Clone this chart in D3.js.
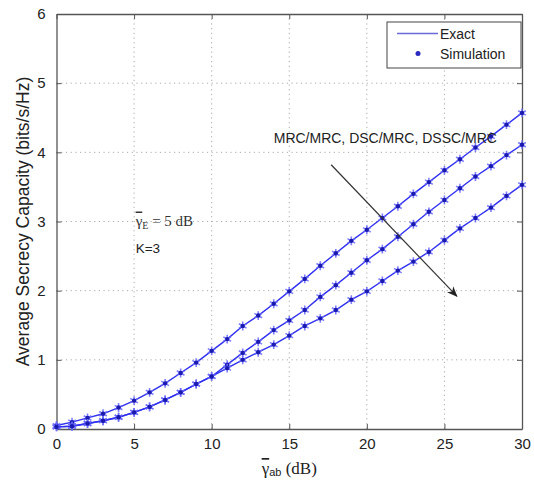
<!DOCTYPE html>
<html>
<head>
<meta charset="utf-8">
<script src="https://cdn.jsdelivr.net/npm/d3@7"></script>
<style>
  body { margin: 0; background: #fff; }
  text { font-family: "Liberation Sans", Arial, sans-serif; }
</style>
</head>
<body>
<div id="chart"></div>
<script>
// x values (dB) and the three curves
var snr = [0,1,2,3,4,5,6,7,8,9,10,11,12,13,14,15,16,17,18,19,20,21,22,23,24,25,26,27,28,29,30];
var mrcMrc = [0.05,0.1,0.16,0.22,0.31,0.41,0.53,0.66,0.81,0.96,1.13,1.3,1.49,1.64,1.81,1.99,2.17,2.36,2.54,2.72,2.88,3.05,3.22,3.4,3.57,3.74,3.9,4.07,4.23,4.4,4.57];
var dscMrc = [0.03,0.04,0.08,0.12,0.17,0.24,0.32,0.42,0.53,0.65,0.76,0.93,1.1,1.26,1.43,1.57,1.72,1.91,2.08,2.26,2.44,2.6,2.78,2.96,3.14,3.31,3.48,3.65,3.8,3.96,4.11];
var dsscMrc = [0.03,0.04,0.08,0.12,0.17,0.24,0.32,0.42,0.53,0.65,0.76,0.88,1.0,1.11,1.22,1.35,1.49,1.6,1.72,1.87,1.99,2.14,2.29,2.42,2.56,2.73,2.9,3.05,3.2,3.37,3.53];
var xTicks = [0,5,10,15,20,25,30];
var yTicks = [0,1,2,3,4,5,6];
var legendLabels = ["Exact", "Simulation"];

var svg = d3.select("#chart").append("svg")
  .attr("width", 534)
  .attr("height", 480);

var margin = {top: 14, right: 12, bottom: 51, left: 56.5},
  width = 534 - margin.left - margin.right,
  height = 480 - margin.top - margin.bottom,
  g = svg.append("g").attr("transform", "translate(" + margin.left + "," + margin.top + ")");

var x = d3.scaleLinear().domain([0, 30]).range([0, width]);
var y = d3.scaleLinear().domain([0, 6]).range([height, 0]);

var axisCol = "#555";

// dotted grid
g.selectAll(".gx").data(xTicks.slice(1, -1)).enter().append("line")
  .attr("x1", function(d) { return x(d); }).attr("x2", function(d) { return x(d); })
  .attr("y1", 0).attr("y2", height)
  .attr("stroke", "#aaa").attr("stroke-dasharray", "1.2,3.5");
g.selectAll(".gy").data(yTicks.slice(1, -1)).enter().append("line")
  .attr("y1", function(d) { return y(d); }).attr("y2", function(d) { return y(d); })
  .attr("x1", 0).attr("x2", width)
  .attr("stroke", "#aaa").attr("stroke-dasharray", "1.2,3.5");

// axes, ticks inward on all four sides
var xb = g.append("g").attr("transform", "translate(0," + height + ")")
  .call(d3.axisBottom(x).tickValues(xTicks).tickSizeInner(-5).tickSizeOuter(0).tickPadding(9).tickFormat(d3.format("d")));
var xt = g.append("g").call(d3.axisTop(x).tickValues(xTicks).tickSizeInner(-5).tickSizeOuter(0).tickFormat(""));
var yl = g.append("g")
  .call(d3.axisLeft(y).tickValues(yTicks).tickSizeInner(-5).tickSizeOuter(0).tickPadding(11).tickFormat(d3.format("d")));
var yr = g.append("g").attr("transform", "translate(" + width + ",0)")
  .call(d3.axisRight(y).tickValues(yTicks).tickSizeInner(-5).tickSizeOuter(0).tickFormat(""));
[xb, xt, yl, yr].forEach(function(a) {
  a.selectAll("path").attr("stroke", axisCol).attr("stroke-width", 1.3);
  a.selectAll("line").attr("stroke", axisCol);
  a.selectAll("text").attr("fill", "#222").style("font-size", "15px");
});
xb.selectAll(".tick text").attr("dy", "0.71em");

// curves
var line = d3.line()
  .x(function(d, i) { return x(snr[i]); })
  .y(function(d) { return y(d); });

var lineCol = "#3030f0";
var star = d3.symbol().type(d3.symbolAsterisk).size(55);

[mrcMrc, dscMrc, dsscMrc].forEach(function(series) {
  g.append("path")
    .datum(series)
    .attr("d", line)
    .attr("fill", "none")
    .attr("stroke", lineCol)
    .attr("stroke-width", 1.4);

  var m = g.selectAll(null).data(series).enter().append("g")
    .attr("transform", function(d, i) { return "translate(" + x(snr[i]) + "," + y(d) + ")"; });
  m.append("path").attr("d", star)
    .attr("fill", "none").attr("stroke", "#6a6aff").attr("stroke-width", 1.6).attr("opacity", 0.85);
  m.append("circle").attr("r", 2.2).attr("fill", "#1a1ab0");
});

// arrow annotation
svg.append("defs").append("marker")
  .attr("id", "head").attr("viewBox", "0 0 10 10")
  .attr("refX", 9).attr("refY", 5)
  .attr("markerWidth", 9).attr("markerHeight", 9)
  .attr("orient", "auto")
  .append("path").attr("d", "M0,1 L10,5 L0,9 L3,5 Z").attr("fill", "#222");

g.append("line")
  .attr("x1", x(17.7)).attr("y1", y(3.82))
  .attr("x2", x(25.8)).attr("y2", y(1.92))
  .attr("stroke", "#333").attr("stroke-width", 1.2)
  .attr("marker-end", "url(#head)");

g.append("text")
  .attr("x", x(14)).attr("y", y(4.14))
  .attr("fill", "#222").style("font-size", "14px")
  .text("MRC/MRC, DSC/MRC, DSSC/MRC");

var ann = g.append("text")
  .attr("x", x(5.1)).attr("y", y(3.0) + 4)
  .attr("fill", "#333").style("font-family", "'Liberation Serif', 'DejaVu Serif', serif").style("font-size", "15px");
ann.append("tspan").style("text-decoration", "overline").text("\u03b3");
ann.append("tspan").attr("dy", 3).style("font-size", "10px").text("E");
ann.append("tspan").attr("dy", -3).text(" = 5 dB");

g.append("text")
  .attr("x", x(5.1)).attr("y", y(2.55))
  .attr("fill", "#222").style("font-size", "13.5px")
  .text("K=3");

// legend
var lg = g.append("g").attr("transform", "translate(" + (387 - margin.left) + "," + (22 - margin.top) + ")");
lg.append("rect").attr("width", 134).attr("height", 46)
  .attr("fill", "#fff").attr("stroke", "#444").attr("stroke-width", 1);
lg.append("line").attr("x1", 10).attr("x2", 51).attr("y1", 11.5).attr("y2", 11.5)
  .attr("stroke", "#6a6ad8").attr("stroke-width", 1.4);
lg.append("circle").attr("cx", 31).attr("cy", 31.5).attr("r", 2.5).attr("fill", "#2a2ac0");
lg.selectAll(".lt").data(legendLabels).enter().append("text")
  .attr("x", 53).attr("y", function(d, i) { return 16.5 + i * 20; })
  .attr("fill", "#222").style("font-size", "14px")
  .text(function(d) { return d; });

// axis labels
svg.append("text")
  .attr("transform", "translate(29," + (margin.top + height / 2) + ") rotate(-90)")
  .attr("text-anchor", "middle")
  .attr("fill", "#222").style("font-size", "17.5px")
  .text("Average Secrecy Capacity (bits/s/Hz)");

var xl = svg.append("text")
  .attr("x", margin.left + width / 2).attr("y", 474)
  .attr("text-anchor", "middle")
  .attr("fill", "#222").style("font-family", "'Liberation Serif', 'DejaVu Serif', serif").style("font-size", "17px");
xl.append("tspan").style("text-decoration", "overline").text("\u03b3");
xl.append("tspan").attr("dy", 2).style("font-size", "11px").style("font-family", "'Liberation Sans', sans-serif").text("ab");
xl.append("tspan").attr("dy", -2).text(" (dB)");
</script>
</body>
</html>
